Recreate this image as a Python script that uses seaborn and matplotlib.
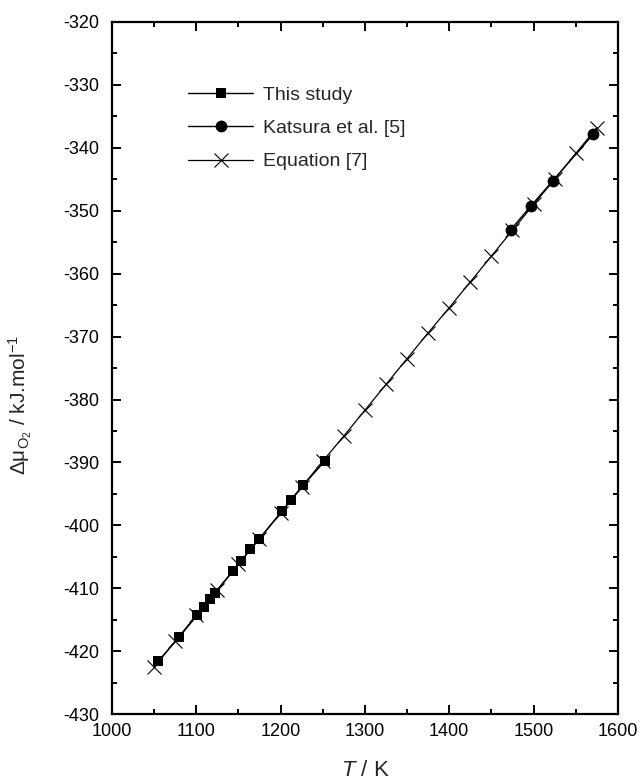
import matplotlib
matplotlib.use("Agg")
import matplotlib.pyplot as plt
from matplotlib.ticker import MultipleLocator
import seaborn as sns
import pandas as pd

# Oxygen chemical potential vs temperature
study_T = [1055, 1080, 1101, 1109, 1116, 1122, 1144, 1153, 1164, 1175, 1202, 1212, 1227, 1253]
study_mu = [-421.6, -417.7, -414.3, -412.9, -411.7, -410.8, -407.2, -405.7, -403.8,
            -402.1, -397.7, -396.0, -393.6, -389.7]

katsura_T = [1473, 1497, 1523, 1571]
katsura_mu = [-353.0, -349.2, -345.2, -337.8]

eq_T = [1050, 1075, 1100, 1125, 1150, 1175, 1200, 1225, 1250, 1275, 1300,
        1325, 1350, 1375, 1400, 1425, 1450, 1475, 1500, 1525, 1550, 1575]
eq_mu = [-422.5, -418.4, -414.3, -410.2, -406.2, -402.1, -398.0, -393.9, -389.8,
         -385.8, -381.7, -377.6, -373.5, -369.4, -365.4, -361.3, -357.2, -353.1,
         -349.0, -345.0, -340.9, -336.8]

labels = ["This study", "Katsura et al. [5]", "Equation [7]"]

sns.set_style("ticks")
plt.rcParams["font.family"] = ["Liberation Sans", "DejaVu Sans"]
plt.rcParams["mathtext.fontset"] = "custom"
plt.rcParams["mathtext.rm"] = "Liberation Sans"
plt.rcParams["mathtext.it"] = "Liberation Sans:italic"
plt.rcParams["axes.unicode_minus"] = False

fig = plt.figure(figsize=(6.43, 7.84), dpi=100)
ax = fig.add_axes([0.174, 0.089, 0.787, 0.883])

df_eq = pd.DataFrame({"T": eq_T, "mu": eq_mu})
df_st = pd.DataFrame({"T": study_T, "mu": study_mu})
df_ka = pd.DataFrame({"T": katsura_T, "mu": katsura_mu})

sns.lineplot(data=df_eq, x="T", y="mu", ax=ax, color="black", lw=0.9,
             marker="x", markersize=10, markeredgewidth=0.8,
             markeredgecolor="black", label=labels[2], zorder=2)
sns.lineplot(data=df_st, x="T", y="mu", ax=ax, color="black", lw=1.0,
             marker="s", markersize=7.5, markeredgewidth=0,
             label=labels[0], zorder=3)
sns.lineplot(data=df_ka, x="T", y="mu", ax=ax, color="black", lw=1.0,
             marker="o", markersize=8.5, markeredgewidth=0,
             label=labels[1], zorder=3)

ax.set_xlim(1000, 1600)
ax.set_ylim(-430, -320)
ax.xaxis.set_major_locator(MultipleLocator(100))
ax.xaxis.set_minor_locator(MultipleLocator(50))
ax.yaxis.set_major_locator(MultipleLocator(10))
ax.yaxis.set_minor_locator(MultipleLocator(5))
ax.tick_params(which="both", direction="in", top=True, right=True,
               labelsize=13, width=1.4, colors="black")
ax.tick_params(which="major", length=6.5)
ax.tick_params(which="minor", length=3.5)
ax.tick_params(axis="y", which="major", pad=9)
ax.tick_params(axis="x", which="major", pad=6)
for s in ax.spines.values():
    s.set_linewidth(1.6)
    s.set_color("black")

ax.set_xlabel(r"$T$ / K", fontsize=16, labelpad=15)
ax.set_ylabel("Δμ$_{\\mathrm{O_2}}$ / kJ.mol$^{-1}$", fontsize=15)
ax.yaxis.set_label_coords(-0.153, 0.447)

handles, lbls = ax.get_legend_handles_labels()
order = [lbls.index(l) for l in labels]
ax.legend([handles[i] for i in order], [lbls[i] for i in order],
          loc="upper left", bbox_to_anchor=(0.135, 0.918), frameon=False,
          fontsize=14, handlelength=3.35, handletextpad=0.5,
          labelspacing=0.8, borderaxespad=0)

fig.savefig("out.png", dpi=100)
